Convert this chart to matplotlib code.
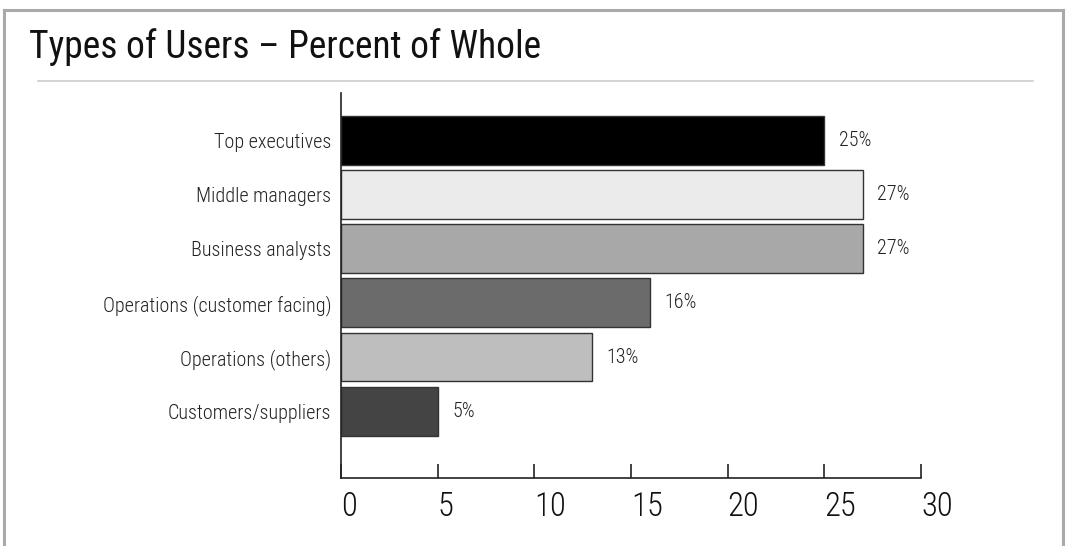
import matplotlib
matplotlib.use("Agg")
import matplotlib.pyplot as plt
from matplotlib import font_manager
from matplotlib.lines import Line2D

names = {f.name for f in font_manager.fontManager.ttflist}
prefs = ["Roboto Condensed", "Archivo Narrow", "PT Sans Narrow", "Encode Sans Condensed",
         "Sofia Sans Condensed", "Saira SemiCondensed", "DejaVu Sans"]
family = next(p for p in prefs if p in names)
plt.rcParams['font.family'] = [family, 'DejaVu Sans']

categories = ["Top executives", "Middle managers", "Business analysts",
              "Operations (customer facing)", "Operations (others)", "Customers/suppliers"]
values = [25, 27, 27, 16, 13, 5]
value_labels = ["25%", "27%", "27%", "16%", "13%", "5%"]
colors = ["#000000", "#ebebeb", "#a8a8a8", "#6b6b6b", "#bebebe", "#444444"]
xticks = [0, 5, 10, 15, 20, 25, 30]
title = "Types of Users \u2013 Percent of Whole"

W, H = 1066, 546
fig = plt.figure(figsize=(W/100, H/100), dpi=100)

# frame border (open at the bottom)
bc = "#aaaaaa"
fig.add_artist(Line2D([4/W, 4/W], [0, 1-10/H], color=bc, lw=2.2, transform=fig.transFigure))
fig.add_artist(Line2D([4/W, 1063/W], [1-10/H, 1-10/H], color=bc, lw=2.2, transform=fig.transFigure))
fig.add_artist(Line2D([1063/W, 1063/W], [0, 1-10/H], color=bc, lw=2.2, transform=fig.transFigure))
# separator under title
fig.add_artist(Line2D([38/W, 1033/W], [1-81/H, 1-81/H], color="#cccccc", lw=1.2, transform=fig.transFigure))

fig.text(29/W, 1-58/H, title, fontsize=27, va="baseline", ha="left", color="#111111")

left, right = 341, 921
top, bottom = 93, 478
ax = fig.add_axes([left/W, 1-bottom/H, (right-left)/W, (bottom-top)/H])
y = list(range(len(categories)))
ax.barh(y, values, height=0.9, color=colors, edgecolor="#333333", linewidth=1.0)
for yi, v, lab in zip(y, values, value_labels):
    ax.text(v + 0.75, yi, lab, va="center", ha="left", fontsize=14.5, color="#222222",
            fontweight=300)

ax.set_xlim(0, 30)
ax.set_ylim(5 + 1.23, -0.87)
ax.set_yticks(y)
ax.set_yticklabels(categories, fontsize=14.5, color="#222222", fontweight=300)
ax.tick_params(axis="y", length=0, pad=7)
ax.set_xticks(xticks)
ax.set_xticklabels([str(t) for t in xticks], fontsize=23.5, color="#111111", ha="left",
                   fontweight=300)
ax.tick_params(axis="x", direction="in", length=10, width=1.2, pad=9, color="#222222")
for s in ["top", "right"]:
    ax.spines[s].set_visible(False)
for s in ["left", "bottom"]:
    ax.spines[s].set_linewidth(1.2)
    ax.spines[s].set_color("#222222")

fig.savefig("out.png", dpi=100)
